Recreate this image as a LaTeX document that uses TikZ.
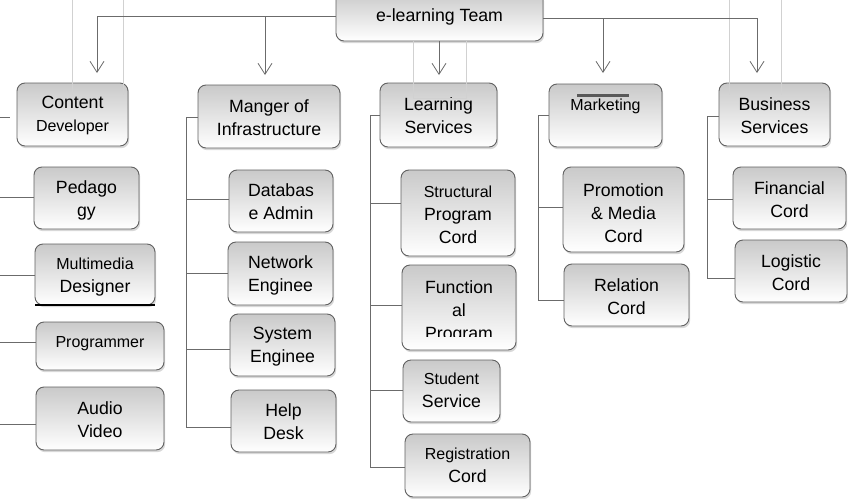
\documentclass[tikz,border=0pt]{standalone}
\usepackage{fontspec}
\setmainfont{Liberation Sans}
\usetikzlibrary{arrows.meta,shadows}
\newcommand\Lg{\fontsize{17.7}{23}\selectfont}
\newcommand\Sm{\fontsize{16}{23}\selectfont}
\tikzset{
  box/.style={draw=black!62, line width=0.9pt, rounded corners=8pt,
    top color=black!21, bottom color=white, inner sep=0pt,
    drop shadow={opacity=0.3, shadow xshift=1.2pt, shadow yshift=-2.2pt}},
  txt/.style={align=center, inner sep=0pt, font=\Lg, text=black},
  conn/.style={draw=black!58, line width=0.8pt},
  arr/.style={conn, -{Straight Barb[length=11pt, width=14pt]}},
  faint/.style={draw=black!18, line width=0.5pt},
  mark bar/.style={draw=black!65, line width=3pt},
}
\newcommand\bx[5]{%
  \node[box, minimum width={(#4-#2)*1pt}, minimum height={(#5-#3)*1pt}] (#1) at ({(#2+#4)/2},{(#3+#5)/2}) {};}
\newcommand\tx[4]{%
  \node[txt] (#1) at ([yshift={-(#3)*1pt}]#2.center) {#4};}
\begin{document}
\begin{tikzpicture}[x=1pt,y=-1pt]
\useasboundingbox (0,0) rectangle (848,498);
\fill[white] (0,0) rectangle (848,498);

% level 0 and 1 boxes
\bx{top}{336}{-8}{543}{41}
\bx{cd}{17}{83}{128}{146}
\bx{mi}{198}{85}{340}{148}
\bx{ls}{380}{83}{497}{147}
\bx{mk}{549}{84}{662}{147}
\bx{bs}{719}{83}{830}{146}
% children
\bx{ped}{34}{167}{139}{229}
\bx{mm}{35}{244}{155}{305}
\bx{pr}{36}{322}{164}{370}
\bx{av}{36}{387}{164}{450}
\bx{db}{229}{170}{333}{232}
\bx{ne}{228}{242}{333}{305}
\bx{se}{230}{314}{335}{376}
\bx{hd}{231}{390}{336}{452}
\bx{sp}{401}{170}{515}{256}
\bx{fp}{402}{265}{516}{350}
\bx{ss}{403}{360}{500}{422}
\bx{rc}{405}{434}{530}{497}
\bx{pm}{563}{167}{684}{252}
\bx{rl}{564}{264}{689}{326}
\bx{fc}{733}{167}{846}{229}
\bx{lc}{735}{240}{847}{302}

% texts
\tx{ttop}{top}{0}{e-learning Team}
\tx{tcd}{cd}{1}{Content\\{\Sm Developer}}
\tx{tmi}{mi}{1}{Manger of\\Infrastructure}
\tx{tls}{ls}{1}{Learning\\Services}
\tx{tmk}{mk}{-9.5}{{\Sm Marketing}}
\tx{tbs}{bs}{1}{Business\\Services}
\tx{tped}{ped}{2}{Pedago\\gy}
\tx{tmm}{mm}{2.5}{{\Sm Multimedia}\\Designer}
\tx{tpr}{pr}{-2.5}{{\Sm Programmer}}
\tx{tav}{av}{1.5}{Audio\\Video}
\tx{tdb}{db}{1}{Databas\\e Admin}
\tx{tne}{ne}{2}{Network\\Enginee}
\tx{tse}{se}{2}{System\\Enginee}
\tx{thd}{hd}{1}{Help\\Desk}
\tx{tsp}{sp}{1.5}{{\Sm Structural}\\Program\\Cord}
\begin{scope}
  \clip (402,265) rectangle (516,336.5);
  \tx{tfp}{fp}{4}{Function\\al\\Program}
\end{scope}
\tx{tss}{ss}{-0.5}{{\Sm Student}\\Service}
\tx{trc}{rc}{-0.5}{{\Sm Registration}\\Cord}
\begin{scope}
  \clip (563,167) rectangle (684,242);
  \tx{tpm}{pm}{3.5}{Promotion\\\& Media\\Cord}
\end{scope}
\tx{trl}{rl}{2}{Relation\\Cord}
\tx{tfc}{fc}{1.5}{Financial\\Cord}
\tx{tlc}{lc}{1.5}{Logistic\\Cord}

% decorations
\draw[mark bar] (577,95) -- (629,95);
\draw[draw=black, line width=2.6pt] (35,305) -- (155,305);

% faint guide lines
\draw[faint] (72,0) -- (72,95);
\draw[faint] (123,0) -- (123,95);
\draw[faint] (413,41) -- (413,98) -- (466,98) -- (466,41);
\draw[faint] (729,0) -- (729,95);
\draw[faint] (781,0) -- (781,95);

% top arrows
\coordinate (a1) at (97,73);
\coordinate (a2) at (265,75);
\coordinate (a3) at (439,75);
\coordinate (a4) at (603,73);
\coordinate (a5) at (757,73);
\coordinate (hr) at ([yshift=-2pt]top.east);
\draw[arr] (top.west) -| (a1);
\draw[arr] (hr) -| (a5);
\draw[arr] (a2 |- top.west) -- (a2);
\draw[arr] (top.south -| a3) -- (a3);
\draw[arr] (a4 |- hr) -- (a4);

% content developer branch
\coordinate (cs1) at (0,117);
\coordinate (cs2) at (10,117);
\draw[conn] (cs1) -- (cs2);
\coordinate (c1) at (0,197);
\coordinate (c2) at (0,275);
\coordinate (c3) at (0,342);
\coordinate (c4) at (0,424);
\draw[conn] (c1) -- (ped.west |- c1);
\draw[conn] (c2) -- (mm.west |- c2);
\draw[conn] (c3) -- (pr.west |- c3);
\draw[conn] (c4) -- (av.west |- c4);

% infrastructure branch
\coordinate (miT) at (186,117);
\coordinate (m1) at (186,199);
\coordinate (m2) at (186,273);
\coordinate (m3) at (186,349);
\coordinate (m4) at (186,427);
\draw[conn] (mi.west |- miT) -- (miT) -- (m4);
\draw[conn] (m1) -- (db.west |- m1);
\draw[conn] (m2) -- (ne.west |- m2);
\draw[conn] (m3) -- (se.west |- m3);
\draw[conn] (m4) -- (hd.west |- m4);

% learning services branch
\coordinate (lsT) at (370,115);
\coordinate (l1) at (370,203);
\coordinate (l2) at (370,305);
\coordinate (l3) at (370,390);
\coordinate (l4) at (370,467);
\draw[conn] (ls.west |- lsT) -- (lsT) -- (l4);
\draw[conn] (l1) -- (sp.west |- l1);
\draw[conn] (l2) -- (fp.west |- l2);
\draw[conn] (l3) -- (ss.west |- l3);
\draw[conn] (l4) -- (rc.west |- l4);

% marketing branch
\coordinate (mkT) at (538,115);
\coordinate (k1) at (538,207);
\coordinate (k2) at (538,300);
\draw[conn] (mk.west |- mkT) -- (mkT) -- (k2);
\draw[conn] (k1) -- (pm.west |- k1);
\draw[conn] (k2) -- (rl.west |- k2);

% business branch
\coordinate (bsT) at (707,116);
\coordinate (b1) at (707,199);
\coordinate (b2) at (707,278);
\draw[conn] (bs.west |- bsT) -- (bsT) -- (b2);
\draw[conn] (b1) -- (fc.west |- b1);
\draw[conn] (b2) -- (lc.west |- b2);
\end{tikzpicture}
\end{document}
